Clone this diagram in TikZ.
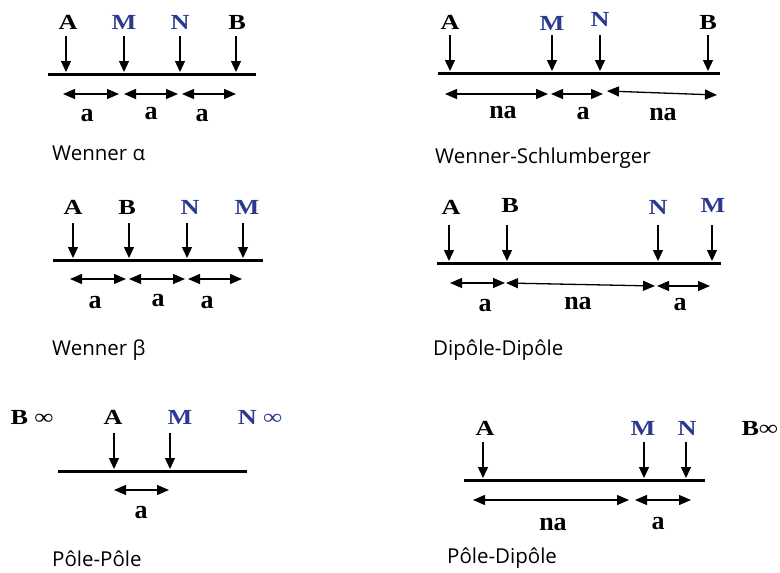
\documentclass[tikz,border=0pt]{standalone}
\usepackage{fontspec}
\newfontfamily\capfont{Open Sans}
\newfontfamily\lblfont[FakeStretch=1.22]{Liberation Serif}
\newfontfamily\dimfont{Liberation Serif}
\usetikzlibrary{arrows.meta}
\definecolor{eblue}{HTML}{2B3990}
\begin{document}
\begin{tikzpicture}[x=1pt,y=-1pt,
  lbl/.style={font=\lblfont\fontsize{21.5}{21.5}\selectfont\bfseries, inner sep=0pt},
  blbl/.style={lbl, text=eblue},
  dl/.style={font=\dimfont\fontsize{26}{26}\selectfont\bfseries, inner sep=0pt},
  probe/.style={-{Triangle[length=11pt,width=10pt]}, line width=1.3pt},
  dimarr/.style={{Triangle[length=12pt,width=10pt]}-{Triangle[length=12pt,width=10pt]}, line width=1.3pt},
  ground/.style={line width=3pt},
  captxt/.style={font=\capfont\fontsize{20.5}{20.5}\selectfont, anchor=west, inner sep=0pt}]
\useasboundingbox (0,0) rectangle (780,573);

% ---------- Panel 1: Wenner alpha
\node[lbl]  (p1A) at (68,22) {A};
\node[blbl] (p1M) at (124,22) {M};
\node[blbl] (p1N) at (180,22) {N};
\node[lbl]  (p1B) at (237,22) {B};
\foreach \n/\x in {A/66,M/124,N/180,B/236}{
  \coordinate (p1\n t) at (\x,36); \coordinate (p1\n b) at (\x,72);
  \draw[probe] (p1\n t) -- (p1\n b);}
\coordinate (g1l) at (48,74); \coordinate (g1r) at (256,74);
\draw[ground] (g1l) -- (g1r);
\foreach \i/\a/\b in {1/63/119,2/124/178,3/182/236}{
  \coordinate (d1\i l) at (\a,94); \coordinate (d1\i r) at (\b,94);
  \draw[dimarr] (d1\i l) -- (d1\i r);}
\node[dl] (p1a1) at (87,116) {a};
\node[dl] (p1a2) at (151,114) {a};
\node[dl] (p1a3) at (202,116) {a};
\node[captxt] (c1) at (52,153) {Wenner α};

% ---------- Panel 2: Wenner-Schlumberger
\node[lbl]  (p2A) at (450,22) {A};
\node[blbl] (p2M) at (552,23) {M};
\node[blbl] (p2N) at (600,19) {N};
\node[lbl]  (p2B) at (708,22) {B};
\foreach \n/\x in {A/450,M/552,N/600,B/708}{
  \coordinate (p2\n t) at (\x,35); \coordinate (p2\n b) at (\x,71);
  \draw[probe] (p2\n t) -- (p2\n b);}
\coordinate (g2l) at (438,73); \coordinate (g2r) at (720,73);
\draw[ground] (g2l) -- (g2r);
\coordinate (d21l) at (445,94); \coordinate (d21r) at (548,94);
\coordinate (d22l) at (551,94); \coordinate (d22r) at (603,94);
\coordinate (d23l) at (607,91); \coordinate (d23r) at (717,95);
\draw[dimarr] (d21l) -- (d21r);
\draw[dimarr] (d22l) -- (d22r);
\draw[dimarr] (d23l) -- (d23r);
\node[dl] (p2a1) at (503,113) {na};
\node[dl] (p2a2) at (583,114) {a};
\node[dl] (p2a3) at (663,114) {na};
\node[captxt] (c2) at (435,158) {Wenner-Schlumberger};

% ---------- Panel 3: Wenner beta
\node[lbl]  (p3A) at (73,207) {A};
\node[lbl]  (p3B) at (127,207) {B};
\node[blbl] (p3N) at (190,207) {N};
\node[blbl] (p3M) at (247,207) {M};
\foreach \n/\x in {A/73,B/129,N/187,M/243}{
  \coordinate (p3\n t) at (\x,223); \coordinate (p3\n b) at (\x,258);
  \draw[probe] (p3\n t) -- (p3\n b);}
\coordinate (g3l) at (53,260); \coordinate (g3r) at (263,260);
\draw[ground] (g3l) -- (g3r);
\foreach \i/\a/\b in {1/70/126,2/129/185,3/188/242}{
  \coordinate (d3\i l) at (\a,279); \coordinate (d3\i r) at (\b,279);
  \draw[dimarr] (d3\i l) -- (d3\i r);}
\node[dl] (p3a1) at (95,303) {a};
\node[dl] (p3a2) at (158,301) {a};
\node[dl] (p3a3) at (207,303) {a};
\node[captxt] (c3) at (52,350) {Wenner β};

% ---------- Panel 4: Dipole-Dipole
\node[lbl]  (p4A) at (451,207) {A};
\node[lbl]  (p4B) at (510,205) {B};
\node[blbl] (p4N) at (658,207) {N};
\node[blbl] (p4M) at (713,205) {M};
\foreach \n/\x in {A/449,B/507,N/658,M/712}{
  \coordinate (p4\n t) at (\x,225); \coordinate (p4\n b) at (\x,261);
  \draw[probe] (p4\n t) -- (p4\n b);}
\coordinate (g4l) at (437,263); \coordinate (g4r) at (721,263);
\draw[ground] (g4l) -- (g4r);
\coordinate (d41l) at (450,283); \coordinate (d41r) at (505,283);
\coordinate (d42l) at (506,283); \coordinate (d42r) at (655,286);
\coordinate (d43l) at (657,286); \coordinate (d43r) at (710,286);
\draw[dimarr] (d41l) -- (d41r);
\draw[dimarr] (d42l) -- (d42r);
\draw[dimarr] (d43l) -- (d43r);
\node[dl] (p4a1) at (485,306) {a};
\node[dl] (p4a2) at (578,303) {na};
\node[dl] (p4a3) at (680,305) {a};
\node[captxt] (c4) at (433,350) {Dipôle-Dipôle};

% ---------- Panel 5: Pole-Pole
\node[lbl]  (p5B) at (32,417) {B ∞};
\node[lbl]  (p5A) at (113,417) {A};
\node[blbl] (p5M) at (180,417) {M};
\node[blbl] (p5N) at (260,417) {N ∞};
\foreach \n/\x in {A/114,M/170}{
  \coordinate (p5\n t) at (\x,433); \coordinate (p5\n b) at (\x,469);
  \draw[probe] (p5\n t) -- (p5\n b);}
\coordinate (g5l) at (58,471); \coordinate (g5r) at (247,471);
\draw[ground] (g5l) -- (g5r);
\coordinate (d51l) at (114,490); \coordinate (d51r) at (169,490);
\draw[dimarr] (d51l) -- (d51r);
\node[dl] (p5a1) at (141,513) {a};
\node[captxt] (c5) at (52,559) {Pôle-Pôle};

% ---------- Panel 6: Pole-Dipole
\node[lbl]  (p6A) at (485,428) {A};
\node[blbl] (p6M) at (643,428) {M};
\node[blbl] (p6N) at (687,428) {N};
\node[lbl, anchor=east] (p6B) at (778,428) {B∞};
\foreach \n/\x in {A/483,M/644,N/686}{
  \coordinate (p6\n t) at (\x,442); \coordinate (p6\n b) at (\x,478);
  \draw[probe] (p6\n t) -- (p6\n b);}
\coordinate (g6l) at (464,480); \coordinate (g6r) at (705,480);
\draw[ground] (g6l) -- (g6r);
\coordinate (d61l) at (473,500); \coordinate (d61r) at (629,500);
\coordinate (d62l) at (635,500); \coordinate (d62r) at (691,500);
\draw[dimarr] (d61l) -- (d61r);
\draw[dimarr] (d62l) -- (d62r);
\node[dl] (p6a1) at (553,524) {na};
\node[dl] (p6a2) at (658,524) {a};
\node[captxt] (c6) at (447,558) {Pôle-Dipôle};
\end{tikzpicture}
\end{document}
